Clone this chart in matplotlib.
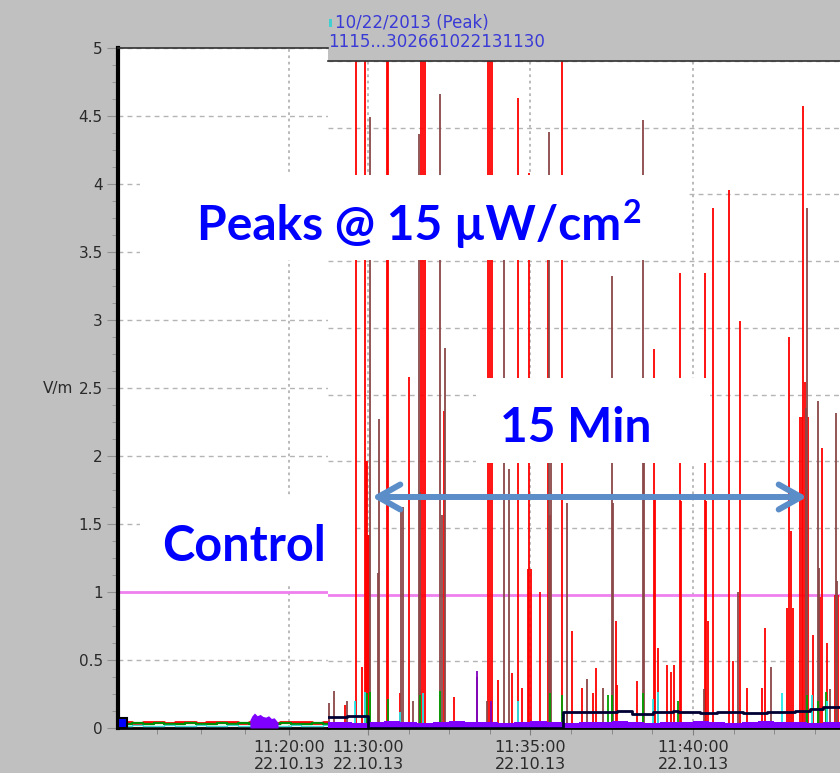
import matplotlib
matplotlib.use("Agg")
import matplotlib.pyplot as plt
from matplotlib.patches import Rectangle, FancyArrowPatch
from matplotlib.ticker import MultipleLocator, FuncFormatter

W, H = 840, 773

# times are minutes after 11:00 on 22.10.13, values in V/m

# control period (left panel)
ctrl_t = [15.37, 15.7, 16.0, 16.3, 16.6, 16.9, 17.2, 17.5, 17.8, 18.1,
          18.4, 18.7, 19.0, 19.3, 19.6, 19.9, 20.2, 20.5, 20.8, 21.11]
ctrl_red = [0.045, 0.04, 0.045, 0.042, 0.04, 0.045, 0.043, 0.04, 0.045, 0.042,
            0.045, 0.04, 0.045, 0.043, 0.04, 0.045, 0.042, 0.045, 0.04, 0.045]
ctrl_green = [0.033, 0.036, 0.03, 0.035, 0.032, 0.03, 0.036, 0.033, 0.03, 0.035,
              0.032, 0.036, 0.03, 0.034, 0.032, 0.035, 0.03, 0.033, 0.036, 0.032]
ctrl_cyan = [0.018, 0.02, 0.015, 0.018, 0.02, 0.016, 0.018, 0.02, 0.015, 0.018,
             0.02, 0.016, 0.018, 0.02, 0.015, 0.018, 0.02, 0.016, 0.018, 0.02]
bump_t = [18.89, 18.95, 19.02, 19.1, 19.18, 19.26, 19.34, 19.42, 19.5, 19.58, 19.69]
bump_v = [0.06, 0.09, 0.11, 0.09, 0.1, 0.085, 0.08, 0.09, 0.07, 0.075, 0.04]
start_t = [15.14]
start_v = [0.075]

# exposure period (right panel)
red_t = [29.29, 29.63, 29.82, 29.91, 29.94, 29.97, 30.00, 30.03,
         30.58, 30.63, 30.98, 31.26, 31.62, 31.68, 31.74,
         32.34, 32.65, 33.70, 33.76, 33.82, 34.00, 34.43, 34.62,
         34.74, 34.93, 34.95, 35.01, 35.29, 35.54, 35.60, 35.97,
         36.28, 36.58, 36.92, 37.02, 37.63, 37.66, 38.28, 38.80, 38.83,
         38.92, 39.20, 39.32, 39.42, 39.60, 39.63, 40.37, 40.40, 40.46,
         40.62, 41.11, 41.23, 41.45, 41.66, 42.12, 42.22, 42.89, 42.95,
         43.02, 43.08, 43.29, 43.35, 43.38, 43.45, 43.54, 43.69, 43.91,
         43.97, 44.12, 44.37, 44.46]
red_v = [0.17, 6, 0.46, 6, 2.0, 2.0, 1.45, 1.45,
         6, 6, 0.26, 2.63, 6, 6, 6,
         2.38, 0.23, 6, 6, 6, 0.36, 0.41, 4.72,
         0.30, 1.19, 4.16, 1.19, 1.02, 3.90, 1.60, 6,
         0.73, 0.30, 0.26, 0.45, 0.80, 0.32, 0.35, 2.84, 1.71,
         0.60, 0.47, 0.42, 0.47, 3.41, 1.70, 3.41, 1.70, 0.80,
         3.90, 4.03, 0.50, 3.05, 0.30, 0.30, 0.75, 0.90, 2.93,
         1.48, 0.90, 2.33, 2.33, 4.66, 2.59, 2.33, 0.70, 0.98,
         2.10, 0.64, 1.00, 1.00]
brown_t = [28.80, 28.95, 29.35, 30.06, 30.31, 30.34, 31.02, 31.08, 31.38, 31.57,
           31.60, 32.22, 32.28, 32.37, 33.35, 33.66, 34.18, 34.34, 35.57, 35.63,
           36.12, 36.74, 37.23, 37.51, 37.54, 38.46, 38.49, 40.34, 41.38, 42.40,
           43.48, 43.51, 43.85, 43.88, 44.22, 44.40, 44.43]
brown_v = [0.19, 0.28, 0.20, 4.58, 1.16, 2.32, 1.66, 1.66, 0.20, 4.45,
           1.77, 4.75, 1.60, 2.85, 0.38, 0.20, 3.80, 1.94, 4.47, 2.00,
           1.69, 0.37, 0.30, 3.39, 1.69, 4.56, 2.00, 0.29, 1.02, 0.46,
           2.40, 3.90, 2.45, 1.20, 0.29, 2.36, 1.10]
green_t = [29.97, 30.06, 30.62, 31.60, 32.22, 35.60, 35.97, 37.38, 37.51, 38.46,
           39.54, 43.51, 43.85, 44.10]
green_v = [0.26, 0.27, 0.22, 0.25, 0.28, 0.26, 0.25, 0.25, 0.25, 0.26,
           0.20, 0.25, 0.20, 0.27]
cyan_t = [29.60, 29.91, 31.00, 31.69, 34.62, 38.77, 38.92, 42.74, 43.66, 44.12]
cyan_v = [0.20, 0.27, 0.12, 0.26, 0.20, 0.22, 0.27, 0.26, 0.25, 0.20]
violet_t = [33.35, 33.78]
violet_v = [0.43, 0.20]
band_t = [28.77, 29.5, 30.0, 30.5, 31.0, 31.5, 32.0, 32.5, 33.0, 33.5, 34.0,
          34.5, 35.0, 35.5, 36.0, 36.5, 37.0, 37.5, 38.0, 38.5, 39.0, 39.5,
          40.0, 40.5, 41.0, 41.5, 42.0, 42.5, 43.0, 43.5, 44.0, 44.71]
band_v = [0.045, 0.04, 0.045, 0.05, 0.045, 0.04, 0.045, 0.05, 0.045, 0.045, 0.04,
          0.045, 0.05, 0.045, 0.04, 0.045, 0.045, 0.05, 0.045, 0.04, 0.045, 0.045,
          0.05, 0.045, 0.04, 0.045, 0.05, 0.045, 0.045, 0.04, 0.045, 0.045]
avg_t = [28.77, 29.35, 30.0, 36.0, 37.66, 38.12, 38.77, 39.38, 39.54, 40.22,
         40.74, 41.54, 42.28, 43.14, 43.6, 44.0, 44.71]
avg_v = [0.08, 0.09, 0.0, 0.12, 0.13, 0.105, 0.12, 0.13, 0.12, 0.11,
         0.12, 0.11, 0.12, 0.13, 0.14, 0.16, 0.16]

title_lines = ["10/22/2013 (Peak)", "1115...302661022131130"]


def px(x0, y0, x1, y1):
    # pixel box (top-left origin) -> figure fraction rect
    return [x0 / W, 1 - y1 / H, (x1 - x0) / W, (y1 - y0) / H]


def clock(m, pos):
    return "11:%02d:%02d\n22.10.13" % (int(m), round((m % 1) * 60))


fig = plt.figure(figsize=(W / 100, H / 100), dpi=100, facecolor='#c0c0c0')
ax_l = fig.add_axes(px(118, 48, 328, 728))
ax_r = fig.add_axes(px(328, 61, 846, 728))
ax_l.set_xlim(15.14, 21.11)
ax_r.set_xlim(28.77, 44.71)

for ax in (ax_l, ax_r):
    ax.set_facecolor('white')
    ax.set_ylim(0, 5)
    ax.set_axisbelow(True)
    ax.yaxis.set_major_locator(MultipleLocator(0.5))
    ax.yaxis.set_minor_locator(MultipleLocator(0.125))
    ax.xaxis.set_major_locator(MultipleLocator(5))
    ax.xaxis.set_minor_locator(MultipleLocator(1.25))
    ax.xaxis.set_major_formatter(FuncFormatter(clock))
    ax.grid(axis='y', which='major', color='#b4b4b4', ls=(0, (3.5, 3)), lw=1)
    ax.grid(axis='x', which='major', color='#b4b4b4', ls=(0, (1.5, 2)), lw=1.3)
    ax.axhline(1.0, color='#f080f0', lw=2, zorder=1.5)
    ax.spines['right'].set_visible(False)
    ax.spines['bottom'].set_linewidth(2)
    ax.spines['bottom'].set_color('black')
    ax.spines['top'].set_linewidth(1.2)
    ax.spines['top'].set_color('#303030')
    ax.tick_params(axis='x', which='major', length=5, color='#808080',
                   labelsize=11.5, pad=3.5, labelcolor='#2a2a2a')
    ax.tick_params(axis='x', which='minor', length=4, color='#808080')

ax_l.spines['left'].set_linewidth(3)
ax_l.spines['left'].set_color('black')
ax_l.yaxis.set_major_formatter(FuncFormatter(lambda v, p: '%g' % v))
ax_l.tick_params(axis='y', which='major', length=8, color='#909090',
                 labelsize=11, pad=3, labelcolor='#2a2a2a')
ax_l.tick_params(axis='y', which='minor', length=4, color='#909090')
ax_l.text(-0.215, 2.5, 'V/m', transform=ax_l.get_yaxis_transform(),
          ha='right', va='center', fontsize=11, color='#2a2a2a')

ax_r.spines['left'].set_visible(False)
ax_r.tick_params(axis='y', which='both', left=False, labelleft=False)

# control panel
ax_l.plot(ctrl_t, ctrl_red, color='red', lw=2, drawstyle='steps-mid', zorder=3)
ax_l.plot(ctrl_t, ctrl_green, color='#008c00', lw=1.6, drawstyle='steps-mid', zorder=3)
ax_l.plot(ctrl_t, ctrl_cyan, color='#40d8d8', lw=1, drawstyle='steps-mid', zorder=3)
ax_l.fill_between(bump_t, bump_v, color='#8000ff', lw=0, zorder=3)
ax_l.bar(start_t, start_v, width=0.26, align='edge', color='#0000ff',
         edgecolor='black', lw=1.5, zorder=5)

# exposure panel
ax_r.vlines(red_t, 0, red_v, color='#ff0000', lw=1.3, zorder=2)
ax_r.vlines(brown_t, 0, brown_v, color='#8b4848', lw=1.3, zorder=2.2)
ax_r.vlines(green_t, 0, green_v, color='#00a000', lw=1.3, zorder=2.4)
ax_r.vlines(cyan_t, 0, cyan_v, color='#20e8e8', lw=1.3, zorder=2.4)
ax_r.vlines(violet_t, 0, violet_v, color='#8000c0', lw=1.3, zorder=2.4)
ax_r.fill_between(band_t, band_v, step='post', color='#8000ff', lw=0, zorder=3)
ax_r.plot(avg_t, avg_v, drawstyle='steps-post', color='#000033', lw=2, zorder=4)

# title strip
fig.add_artist(Rectangle((329 / W, 1 - 27 / H), 3 / W, 8 / H, transform=fig.transFigure,
                         facecolor='#40d0d0', edgecolor='none'))
fig.text(335 / W, 1 - 28 / H, title_lines[0], fontsize=12, color='#3a3ad6', va='baseline')
fig.text(328 / W, 1 - 47 / H, title_lines[1], fontsize=12, color='#3a3ad6', va='baseline')

# white label boxes pasted on top of the chart
for box in [(140, 175, 688, 260), (476, 378, 710, 463), (140, 497, 352, 585)]:
    x0, y0, x1, y1 = box
    r = px(x0, y0, x1, y1)
    fig.add_artist(Rectangle((r[0], r[1]), r[2], r[3], transform=fig.transFigure,
                             facecolor='white', edgecolor='none', zorder=2))

lab = dict(color='#0000ff', fontweight='bold', family=['Lato', 'DejaVu Sans'],
           va='baseline', zorder=3)
peaks = fig.text(197 / W, 1 - 240 / H, 'Peaks @ 15 µW/cm', fontsize=34.5, **lab)
fig.text(500 / W, 1 - 442 / H, '15 Min', fontsize=34.5, **lab)
fig.text(162 / W, 1 - 561 / H, 'Control', fontsize=35, **lab)
fig.canvas.draw()
bb = peaks.get_window_extent(fig.canvas.get_renderer())
fig.text(bb.x1 / W + 2 / W, 1 - 223 / H, '2', fontsize=23, **lab)

for ax in (ax_l, ax_r):
    for lbl in ax.get_xticklabels():
        lbl.set_linespacing(1.22)

arrow = FancyArrowPatch((372 / W, 1 - 497 / H), (807 / W, 1 - 497 / H),
                        transform=fig.transFigure,
                        arrowstyle='<->,head_length=0.8,head_width=0.45',
                        mutation_scale=20, lw=4.3, color='#5b8dc9',
                        shrinkA=0, shrinkB=0, zorder=4)
fig.add_artist(arrow)

fig.savefig('out.png', dpi=100, facecolor=fig.get_facecolor())
